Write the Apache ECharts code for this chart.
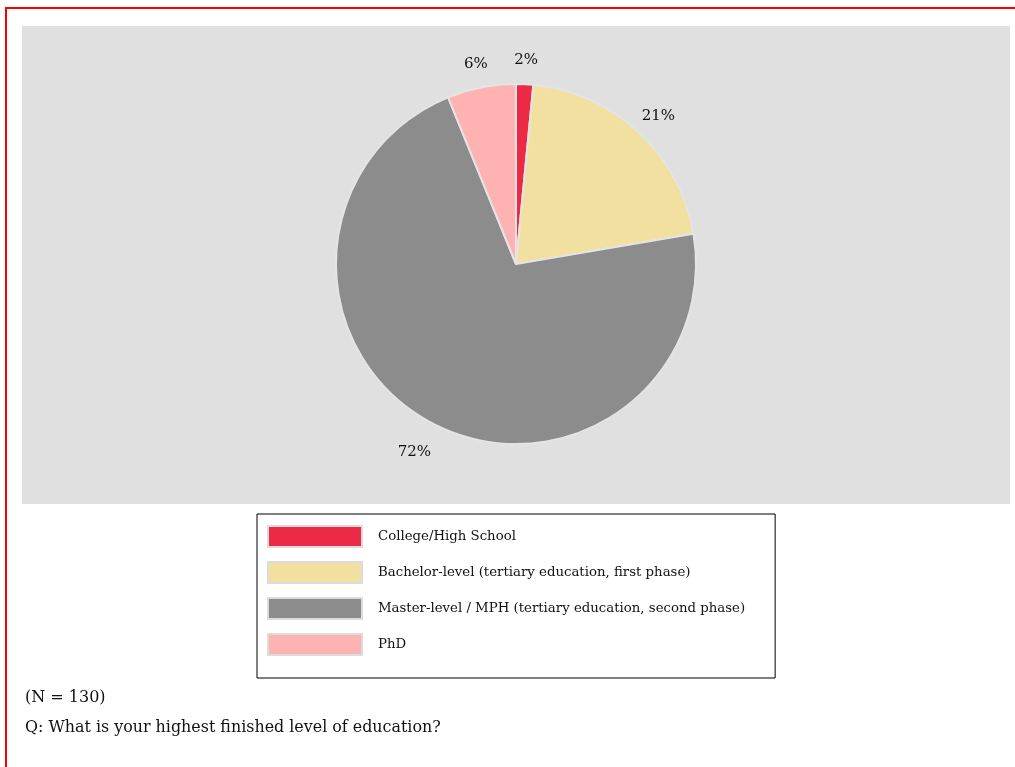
<!DOCTYPE html>
<html>
<head>
<meta charset="utf-8">
<style>
html,body{margin:0;padding:0;background:#fff;overflow:hidden;}
#chart{width:1015px;height:767px;}
</style>
<script src="https://cdn.jsdelivr.net/npm/echarts@6/dist/echarts.min.js"></script>
</head>
<body>
<div id="chart"></div>
<script>
const categories = [
  'College/High School',
  'Bachelor-level (tertiary education, first phase)',
  'Master-level / MPH (tertiary education, second phase)',
  'PhD'
];
const counts = [2, 27, 93, 8];
const colors = ['#ec2a45', '#f2e0a0', '#8c8c8c', '#feb2b2'];
const sampleNote = '(N = 130)';
const question = 'Q: What is your highest finished level of education?';

const FONT = '"DejaVu Serif", "Liberation Serif", serif';
const total = counts.reduce((a, b) => a + b, 0);
const pieData = categories.map((c, i) => ({ name: c, value: counts[i], itemStyle: { color: colors[i] } }));

const chart = echarts.init(document.getElementById('chart'), null, { renderer: 'canvas' });
chart.setOption({
  animation: false,
  textStyle: { fontFamily: FONT },
  graphic: [
    { type: 'rect', z: -10, shape: { x: 6, y: 8, width: 1200, height: 900 }, style: { fill: '#fff', stroke: '#ff0000', lineWidth: 2 } },
    { type: 'rect', z: -5, shape: { x: 22, y: 26, width: 988, height: 478 }, style: { fill: '#e0e0e0' } }
  ],
  title: [
    { text: sampleNote, left: 25, top: 690, padding: 0, textStyle: { fontFamily: FONT, fontSize: 16, fontWeight: 'normal', color: '#111' } },
    { text: question, left: 25, top: 720, padding: 0, textStyle: { fontFamily: FONT, fontSize: 15.9, fontWeight: 'normal', color: '#111' } }
  ],
  legend: {
    orient: 'vertical',
    left: 257,
    top: 514,
    padding: [11, 30, 22, 10],
    itemWidth: 94,
    itemHeight: 21,
    itemGap: 13,
    borderColor: '#000',
    borderWidth: 1,
    backgroundColor: '#fff',
    icon: 'rect',
    itemStyle: { borderColor: '#dcdcdc', borderWidth: 2 },
    textStyle: { fontFamily: FONT, fontSize: 13.3, color: '#111', padding: [0, 0, 0, 11] },
    selectedMode: false,
    data: categories
  },
  series: [
    {
      type: 'pie',
      center: [516, 264],
      radius: [0, 180],
      startAngle: 90,
      clockwise: true,
      silent: true,
      label: { show: false },
      labelLine: { show: false },
      itemStyle: { borderColor: '#e4e4e4', borderWidth: 2 },
      data: pieData
    },
    {
      type: 'pie',
      center: [516, 269],
      radius: [0, 412],
      startAngle: 90,
      clockwise: true,
      silent: true,
      z: 5,
      itemStyle: { color: 'rgba(0,0,0,0)', borderWidth: 0 },
      labelLine: { show: false },
      label: {
        show: true,
        position: 'inside',
        fontFamily: FONT,
        fontSize: 15,
        color: '#111',
        formatter: p => Math.round(p.value / total * 100) + '%'
      },
      data: categories.map((c, i) => ({ name: c, value: counts[i] }))
    }
  ]
});
</script>
</body>
</html>
